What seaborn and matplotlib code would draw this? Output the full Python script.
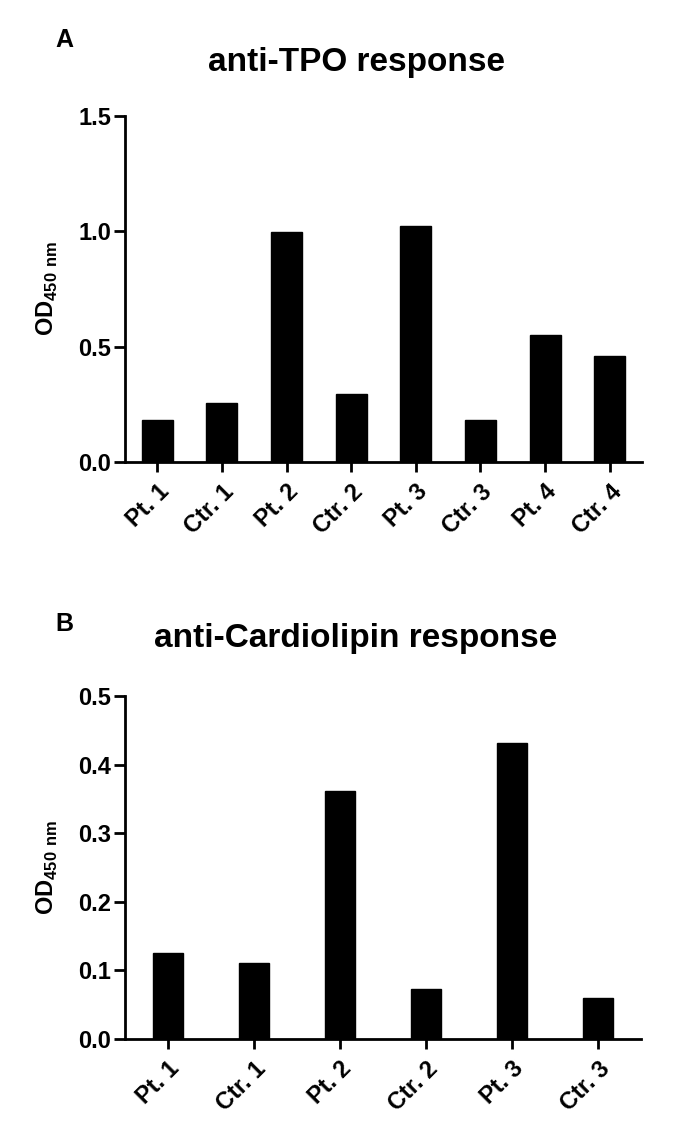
import matplotlib
matplotlib.use("Agg")
import matplotlib.pyplot as plt
import matplotlib.transforms as mtransforms
import seaborn as sns
import pandas as pd

# panel A - anti-TPO response
tpo_samples = ['Pt. 1', 'Ctr. 1', 'Pt. 2', 'Ctr. 2', 'Pt. 3', 'Ctr. 3', 'Pt. 4', 'Ctr. 4']
tpo_od = [0.183, 0.256, 0.998, 0.296, 1.025, 0.180, 0.549, 0.458]
tpo_yticks = [0.0, 0.5, 1.0, 1.5]

# panel B - anti-Cardiolipin response
cl_samples = ['Pt. 1', 'Ctr. 1', 'Pt. 2', 'Ctr. 2', 'Pt. 3', 'Ctr. 3']
cl_od = [0.126, 0.111, 0.361, 0.073, 0.432, 0.060]
cl_yticks = [0.0, 0.1, 0.2, 0.3, 0.4, 0.5]

sns.set_style('ticks')
plt.rcParams['font.family'] = ['Liberation Sans', 'DejaVu Sans']
plt.rcParams['font.weight'] = 'bold'
plt.rcParams['mathtext.fontset'] = 'custom'
plt.rcParams['mathtext.rm'] = 'Liberation Sans:bold'
plt.rcParams['mathtext.bf'] = 'Liberation Sans:bold'
# seaborn greys the text, the figure is pure black
for key in ['text.color', 'axes.labelcolor', 'xtick.color', 'ytick.color', 'axes.edgecolor']:
    plt.rcParams[key] = 'black'

W, H = 685, 1145
fig = plt.figure(figsize=(W / 100, H / 100), dpi=100)


def draw_panel(rect, samples, values, yticks, bar_width):
    ax = fig.add_axes(rect)
    df = pd.DataFrame({'sample': samples, 'od': values})
    sns.barplot(data=df, x='sample', y='od', color='black', saturation=1,
                width=bar_width, edgecolor='black', linewidth=1, ax=ax)
    ax.set_xlim(-0.5, len(samples) - 0.5)
    ax.set_ylim(0, yticks[-1])
    ax.set_yticks(yticks)
    ax.set_yticklabels([f'{t:.1f}' for t in yticks], fontsize=17, fontweight='bold')
    ax.set_xticks(range(len(samples)))
    ax.set_xticklabels(samples, fontsize=17, fontweight='bold', rotation=45,
                       ha='right', rotation_mode='anchor')
    shift = mtransforms.ScaledTranslation(4 / 100, 0, fig.dpi_scale_trans)
    for lab in ax.get_xticklabels():
        lab.set_transform(lab.get_transform() + shift)
    ax.set_xlabel('')
    ax.set_ylabel(r'OD$_{\mathrm{450\ nm}}$', fontsize=17, fontweight='bold')
    ax.yaxis.set_label_coords(-0.125, 0.5)
    sns.despine(ax=ax)
    for s in ['left', 'bottom']:
        ax.spines[s].set_linewidth(2)
        ax.spines[s].set_color('black')
    ax.tick_params(axis='y', length=8, width=2, pad=2, colors='black')
    ax.tick_params(axis='x', length=7, width=2, pad=6, colors='black')
    return ax


def px_rect(left, top, right, bottom):
    return [left / W, 1 - bottom / H, (right - left) / W, (bottom - top) / H]


draw_panel(px_rect(125, 116, 642, 462), tpo_samples, tpo_od, tpo_yticks, 0.48)
draw_panel(px_rect(125, 696, 641, 1039), cl_samples, cl_od, cl_yticks, 0.35)

fig.text(356 / W, 1 - 71 / H, 'anti-TPO response', ha='center', va='baseline',
         fontsize=24, fontweight='bold')
fig.text(356 / W, 1 - 647 / H, 'anti-Cardiolipin response', ha='center', va='baseline',
         fontsize=24, fontweight='bold')
fig.text(55 / W, 1 - 47 / H, 'A', ha='left', va='baseline', fontsize=18, fontweight='bold')
fig.text(55 / W, 1 - 631 / H, 'B', ha='left', va='baseline', fontsize=18, fontweight='bold')

fig.savefig('out.png', dpi=100)
